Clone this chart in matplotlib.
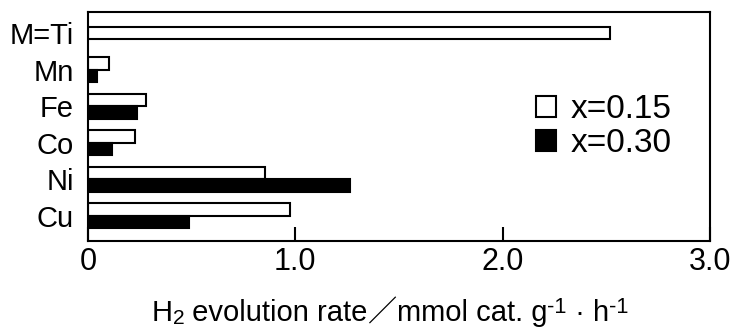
import matplotlib
matplotlib.use("Agg")
import matplotlib.pyplot as plt
from matplotlib.patches import Patch
import numpy as np

metals = ["M=Ti", "Mn", "Fe", "Co", "Ni", "Cu"]
rate_015 = [2.52, 0.10, 0.28, 0.225, 0.855, 0.975]
rate_030 = [np.nan, 0.045, 0.235, 0.115, 1.265, 0.485]
series_labels = ["x=0.15", "x=0.30"]
xticks = [0, 1.0, 2.0, 3.0]
xtick_labels = ["0", "1.0", "2.0", "3.0"]

plt.rcParams['font.family'] = ['Liberation Sans', 'DejaVu Sans']

W, H = 733, 329
fig = plt.figure(figsize=(W / 100, H / 100), dpi=100)
ax = fig.add_axes([88 / W, 1 - 241 / H, (710 - 88) / W, (241 - 12) / H])

a = np.array(rate_015)
b = np.array(rate_030)
ypos = np.arange(len(metals))[::-1].astype(float)
h = 0.34
has_b = ~np.isnan(b)
off = np.where(has_b, h / 2, 0)

ax.barh(ypos + off, a, height=h, color='white', edgecolor='black', lw=1.5)
ax.barh(ypos[has_b] - h / 2, b[has_b], height=h, color='black', edgecolor='black', lw=1.5)

ax.set_xlim(0, 3.0)
ax.set_ylim(-0.69, 5.574)
ax.set_yticks(ypos)
ax.set_yticklabels(metals, fontsize=21)
ax.tick_params(axis='y', length=0, pad=10)
ax.set_xticks(xticks)
ax.set_xticklabels(xtick_labels, fontsize=22)
ax.tick_params(axis='x', direction='in', length=10, width=1.5, pad=4)
for s in ax.spines.values():
    s.set_linewidth(1.5)

handles = [Patch(facecolor='white', edgecolor='black', lw=1.5),
           Patch(facecolor='black', edgecolor='black', lw=1.5)]
fig.legend(handles, series_labels, loc='upper left',
           bbox_to_anchor=(536 / W, 1 - 94 / H), frameon=False,
           fontsize=24, borderpad=0, borderaxespad=0,
           handlelength=0.6, handleheight=0.6, handletextpad=0.45,
           labelspacing=0.1)

# x label built from pieces (sub/superscripts + fullwidth slash)
F = 21
pieces = [("H", F, 0, None),
          ("2", F * 0.72, -3, None),
          (" evolution rate", F, 0, None),
          ("\uff0f", F, 0, ['Noto Sans CJK JP']),
          ("mmol cat. g", F, 0, None),
          ("-1", F * 0.75, 8, None),
          (" \u00b7 h", F, 0, None),
          ("-1", F * 0.75, 8, None)]
base_y = 321
texts = []
for s, fs, dy, fam in pieces:
    kw = {}
    if fam:
        kw['family'] = fam
    t = fig.text(0, 1 - (base_y - dy) / H, s, fontsize=fs, va='baseline', ha='left', **kw)
    texts.append(t)
fig.canvas.draw()
r = fig.canvas.get_renderer()
widths = [t.get_window_extent(r).width for t in texts]
x = 390 - sum(widths) / 2
for t, w in zip(texts, widths):
    t.set_x(x / W)
    x += w

fig.savefig("out.png", dpi=100)
